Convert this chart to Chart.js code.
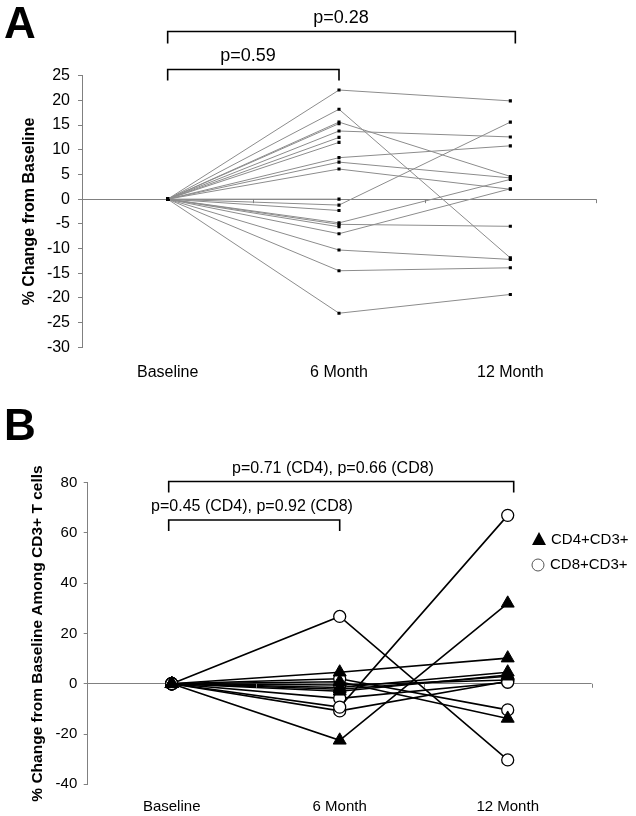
<!DOCTYPE html>
<html>
<head>
<meta charset="utf-8">
<script src="https://cdn.jsdelivr.net/npm/chart.js@4.4.0/dist/chart.umd.min.js"></script>
<style>
  html, body { margin: 0; padding: 0; background: #fff; }
  #wrap { position: relative; width: 636px; height: 816px; }
  canvas { position: absolute; left: 0; }
  #chartA { top: 0; }
  #chartB { top: 400px; }
</style>
</head>
<body>
<div id="wrap">
  <canvas id="chartA" width="636" height="400"></canvas>
  <canvas id="chartB" width="636" height="416"></canvas>
</div>
<script>
// --- data ---
const categories = ['Baseline', '6 Month', '12 Month'];

// panel A: % change from baseline, one entry per subject
const sixMonthA    = [22.1, 18.2, 15.6, 15.3, 13.8, 12.5, 11.5, 8.4, 7.5, 6.1, 0, -1.2, -2.3, -4.8, -5.1, -5.6, -7.0, -10.3, -14.5, -23.1];
const twelveMonthA = [19.9, -11.9, 4.6, null, 12.6, null, null, 10.8, 4.3, 2.0, null, 15.6, null, 4.0, -5.5, null, 2.1, -12.2, -13.9, -19.3];
const pLabelsA = ['p=0.59', 'p=0.28'];

// panel B: CD4+ (triangles) and CD8+ (circles) among CD3+
const cd4Six    = [4.6, -22.5, 0.8, -1.5, -3.0, -2.2];
const cd4Twelve = [10.2, 32.0, -13.8, 4.6, 3.5, 3.0];
const cd8Six    = [26.8, -9.3, 2.0, -5.8, -10.8, -0.5];
const cd8Twelve = [-30.3, 67.0, -10.4, 0.6, 1.0, 1.5];
const legendLabelsB = ['CD4+CD3+', 'CD8+CD3+'];
const pLabelsB = ['p=0.45 (CD4), p=0.92 (CD8)', 'p=0.71 (CD4), p=0.66 (CD8)'];

Chart.defaults.font.family = '"Liberation Sans", Arial, sans-serif';
Chart.defaults.color = '#000';

// brackets, panel letter and the manual legend
const decorPlugin = {
    id: 'decor',
    afterDraw(chart, args, opts) {
        const ctx = chart.ctx;
        const xs = chart.scales.x, ys = chart.scales.y;
        ctx.save();

        // little marks on the zero line between categories
        const y0 = ys.getPixelForValue(0);
        ctx.strokeStyle = '#808080';
        ctx.lineWidth = 1;
        [0.5, 1.5, 2.5].forEach(v => {
            const px = Math.round(xs.getPixelForValue(v)) + 0.5;
            ctx.beginPath();
            ctx.moveTo(px, y0);
            ctx.lineTo(px, y0 + 4);
            ctx.stroke();
        });

        ctx.fillStyle = '#000';
        ctx.font = 'bold 44px "Liberation Sans", Arial, sans-serif';
        ctx.textAlign = 'left';
        ctx.textBaseline = 'alphabetic';
        ctx.fillText(opts.letter, opts.letterX, opts.letterY);

        ctx.strokeStyle = '#000';
        ctx.lineWidth = 1.6;
        ctx.font = opts.pFont;
        ctx.textAlign = 'center';
        ctx.textBaseline = 'middle';
        opts.brackets.forEach(b => {
            const x1 = xs.getPixelForValue(b.from) + (b.dx1 || 0);
            const x2 = xs.getPixelForValue(b.to) + (b.dx2 || 0);
            ctx.beginPath();
            ctx.moveTo(x1, b.y + b.drop);
            ctx.lineTo(x1, b.y);
            ctx.lineTo(x2, b.y);
            ctx.lineTo(x2, b.y + b.drop);
            ctx.stroke();
            ctx.fillText(b.text, b.textX, b.textY);
        });

        if (opts.legend) {
            ctx.font = '15px "Liberation Sans", Arial, sans-serif';
            ctx.textAlign = 'left';
            opts.legend.forEach(item => {
                ctx.beginPath();
                if (item.style === 'triangle') {
                    ctx.moveTo(item.x, item.y - 8);
                    ctx.lineTo(item.x + 7, item.y + 5);
                    ctx.lineTo(item.x - 7, item.y + 5);
                    ctx.closePath();
                    ctx.fillStyle = '#000';
                    ctx.fill();
                } else {
                    ctx.arc(item.x, item.y, 6, 0, Math.PI * 2);
                    ctx.fillStyle = '#fff';
                    ctx.fill();
                    ctx.lineWidth = 1;
                    ctx.strokeStyle = '#555';
                    ctx.stroke();
                }
                ctx.fillStyle = '#000';
                ctx.fillText(item.text, item.x + 12, item.y);
            });
        }
        ctx.restore();
    }
};

function subjectSets(six, twelve, style) {
    return six.map((v, i) => Object.assign({ data: [0, v, twelve[i]], spanGaps: false }, style));
}

function buildOptions(cfg) {
    return {
        responsive: false,
        animation: false,
        devicePixelRatio: 1,
        events: [],
        layout: { padding: { left: 0, right: cfg.padRight, top: cfg.padTop, bottom: 0 } },
        plugins: {
            legend: { display: false },
            tooltip: { enabled: false },
            decor: cfg.decor
        },
        scales: {
            x: {
                type: 'category',
                offset: true,
                grid: { display: false, drawTicks: false },
                border: { display: false },
                ticks: { color: '#000', font: { size: cfg.catSize }, padding: cfg.catPad, maxRotation: 0, autoSkip: false },
                afterFit: s => { s.height = cfg.xHeight; }
            },
            y: {
                min: cfg.yMin,
                max: cfg.yMax,
                ticks: { stepSize: cfg.yStep, color: '#000', font: { size: cfg.tickSize }, padding: cfg.tickPad },
                grid: {
                    color: c => (c.tick && c.tick.value === 0) ? '#808080' : 'rgba(0,0,0,0)',
                    tickColor: '#808080',
                    tickLength: 4
                },
                border: { display: true, color: '#808080', width: 1 },
                title: {
                    display: true,
                    text: cfg.yTitle,
                    color: '#000',
                    font: { size: cfg.titleSize, weight: 'bold' },
                    padding: { top: cfg.titlePad, bottom: 0 }
                },
                afterFit: s => { s.width = cfg.yWidth; }
            }
        }
    };
}

// --- panel A ---
new Chart(document.getElementById('chartA'), {
    type: 'line',
    data: {
        labels: categories,
        datasets: subjectSets(sixMonthA, twelveMonthA, {
            borderColor: '#8c8c8c',
            borderWidth: 1,
            pointStyle: 'rect',
            pointRadius: 2.2,
            pointBackgroundColor: '#000',
            pointBorderColor: '#000',
            pointBorderWidth: 0
        })
    },
    options: buildOptions({
        padTop: 75.7, padRight: 40, xHeight: 52.7, yWidth: 82,
        yMin: -30, yMax: 25, yStep: 5,
        catSize: 16, catPad: 16, tickSize: 16, tickPad: 8,
        yTitle: '% Change from Baseline', titleSize: 16, titlePad: 20.4,
        decor: {
            letter: 'A', letterX: 4, letterY: 38,
            pFont: '18px "Liberation Sans", Arial, sans-serif',
            brackets: [
                { from: 0, to: 1, y: 69.5, drop: 11, text: pLabelsA[0], textX: 248, textY: 56 },
                { from: 0, to: 2, dx2: 5, y: 31.5, drop: 12, text: pLabelsA[1], textX: 341, textY: 18 }
            ]
        }
    }),
    plugins: [decorPlugin]
});

// --- panel B ---
new Chart(document.getElementById('chartB'), {
    type: 'line',
    data: {
        labels: categories,
        datasets: [
            ...subjectSets(cd4Six, cd4Twelve, {
                borderColor: '#000',
                borderWidth: 1.6,
                pointStyle: 'triangle',
                pointRadius: 7.5,
                pointBackgroundColor: '#000',
                pointBorderColor: '#000',
                pointBorderWidth: 1
            }),
            ...subjectSets(cd8Six, cd8Twelve, {
                borderColor: '#000',
                borderWidth: 1.6,
                pointStyle: 'circle',
                pointRadius: 6,
                pointBackgroundColor: '#fff',
                pointBorderColor: '#000',
                pointBorderWidth: 1.3
            })
        ]
    },
    options: buildOptions({
        padTop: 82.7, padRight: 44.3, xHeight: 31.7, yWidth: 87.7,
        yMin: -40, yMax: 80, yStep: 20,
        catSize: 15, catPad: 13.4, tickSize: 15, tickPad: 6.4,
        yTitle: '% Change from Baseline Among CD3+ T cells', titleSize: 15.5, titlePad: 28.7,
        decor: {
            letter: 'B', letterX: 4, letterY: 40,
            pFont: '16px "Liberation Sans", Arial, sans-serif',
            brackets: [
                { from: 0, to: 1, dx1: -3, y: 120, drop: 11, text: pLabelsB[0], textX: 252, textY: 107 },
                { from: 0, to: 2, dx1: -3, dx2: 6, y: 81.5, drop: 11, text: pLabelsB[1], textX: 333, textY: 69 }
            ],
            legend: [
                { style: 'triangle', text: legendLabelsB[0], x: 539, y: 140 },
                { style: 'circle', text: legendLabelsB[1], x: 538, y: 165 }
            ]
        }
    }),
    plugins: [decorPlugin]
});
</script>
</body>
</html>
